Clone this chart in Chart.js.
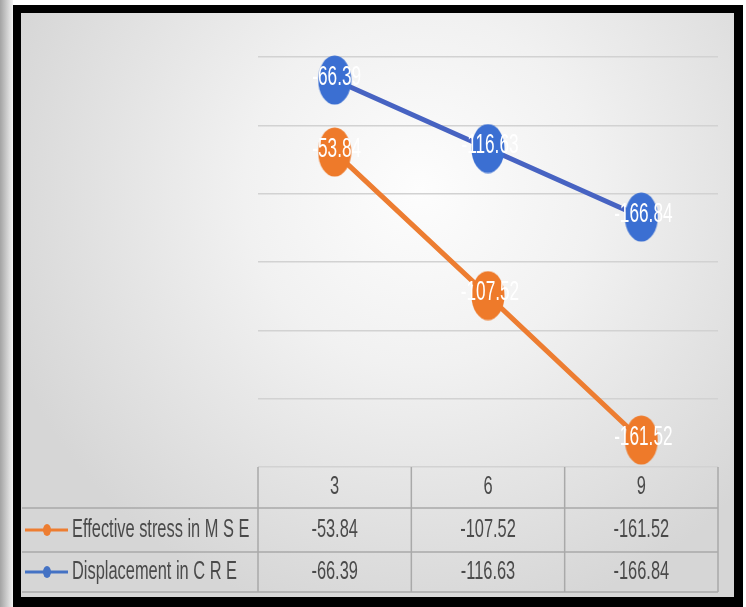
<!DOCTYPE html>
<html lang="en">
<head>
  <meta charset="UTF-8">
  <title>Effective stress and displacement</title>
  <script src="https://cdn.jsdelivr.net/npm/chart.js"></script>
  <style>
    html, body { margin: 0; padding: 0; background: #fff; }
    #wrap { position: relative; width: 746px; height: 607px; }
  </style>
</head>
<body>
  <div id="wrap"><canvas id="myChart" width="746" height="607"></canvas></div>

<script>
  var spacing = ['3', '6', '9'];
  var stressMSE = [-53.84, -107.52, -161.52];
  var dispCRE = [-66.39, -116.63, -166.84];
  var seriesNames = ['Effective stress in M S E', 'Displacement in C R E'];

  var orange = '#ed7d31';
  var blue = '#4472c4';
  var textGrey = '#4a4a4a';

  // narrow, tall lettering like the exported sheet
  function tallText(ctx, text, x, y, size, sy, color, align) {
    ctx.save();
    ctx.translate(x, y);
    ctx.scale(0.82, sy);
    ctx.font = size + 'px "Liberation Sans", Arial, sans-serif';
    ctx.fillStyle = color;
    ctx.textAlign = align || 'center';
    ctx.textBaseline = 'middle';
    ctx.fillText(text, 0, 0);
    ctx.restore();
  }

  function ovalMarker(color) {
    var c = document.createElement('canvas');
    c.width = 34;
    c.height = 50;
    var g = c.getContext('2d');
    g.fillStyle = color;
    g.beginPath();
    g.ellipse(17, 25, 16.5, 24.5, 0, 0, Math.PI * 2);
    g.fill();
    return c;
  }

  var framePlugin = {
    id: 'frame',
    beforeDraw: function(chart) {
      var ctx = chart.ctx;
      ctx.save();
      ctx.fillStyle = '#fff';
      ctx.fillRect(0, 0, 746, 607);
      var side = ctx.createLinearGradient(0, 0, 13, 0);
      side.addColorStop(0, '#a3a3a3');
      side.addColorStop(1, '#f2f2f2');
      ctx.fillStyle = side;
      ctx.fillRect(0, 0, 13, 607);
      ctx.fillStyle = '#000';
      ctx.fillRect(13, 5, 730, 602);
      var g = ctx.createRadialGradient(420, 190, 0, 420, 190, 440);
      g.addColorStop(0, '#fdfdfd');
      g.addColorStop(0.4, '#f1f1f1');
      g.addColorStop(1, '#d6d6d6');
      ctx.fillStyle = g;
      ctx.fillRect(21, 13, 713, 584);
      ctx.restore();
    }
  };

  var labelPlugin = {
    id: 'pointLabels',
    afterDatasetsDraw: function(chart) {
      var ctx = chart.ctx;
      chart.data.datasets.forEach(function(ds, d) {
        chart.getDatasetMeta(d).data.forEach(function(pt, i) {
          tallText(ctx, ds.data[i].toFixed(2), pt.x + 2, pt.y - 3, 21, 1.33, '#fff');
        });
      });
    }
  };

  var tablePlugin = {
    id: 'dataTable',
    afterDraw: function(chart) {
      var ctx = chart.ctx;
      var area = chart.chartArea;
      var xs = chart.scales.x;
      var band = (area.right - area.left) / spacing.length;
      var rows = [area.bottom, area.bottom + 41, area.bottom + 85, area.bottom + 125];

      ctx.save();
      ctx.strokeStyle = '#a9a9a9';
      ctx.lineWidth = 1.5;
      ctx.beginPath();
      for (var r = 1; r < rows.length; r++) {
        ctx.moveTo(22, rows[r]);
        ctx.lineTo(area.right, rows[r]);
      }
      for (var c = 0; c <= spacing.length; c++) {
        var cx = area.left + c * band;
        ctx.moveTo(cx, rows[0]);
        ctx.lineTo(cx, rows[3]);
      }
      ctx.stroke();

      spacing.forEach(function(lab, i) {
        tallText(ctx, lab, xs.getPixelForValue(i), (rows[0] + rows[1]) / 2, 20, 1.26, textGrey);
      });

      var series = [[stressMSE, orange], [dispCRE, blue]];
      series.forEach(function(s, k) {
        var cy = (rows[k + 1] + rows[k + 2]) / 2;
        // legend key
        ctx.strokeStyle = s[1];
        ctx.lineWidth = 3;
        ctx.beginPath();
        ctx.moveTo(25, cy);
        ctx.lineTo(68, cy);
        ctx.stroke();
        ctx.fillStyle = s[1];
        ctx.beginPath();
        ctx.ellipse(47, cy, 4, 6, 0, 0, Math.PI * 2);
        ctx.fill();
        tallText(ctx, seriesNames[k], 72, cy, 20, 1.26, textGrey, 'left');
        s[0].forEach(function(v, i) {
          tallText(ctx, v.toFixed(2), xs.getPixelForValue(i), cy, 20, 1.26, textGrey);
        });
      });
      ctx.restore();
    }
  };

  var ctx = document.getElementById('myChart');

  var chart = new Chart(ctx, {
    type: 'line',
    data: {
      labels: spacing,
      datasets: [{
        label: seriesNames[0],
        data: stressMSE,
        yAxisID: 'y',
        borderColor: orange,
        backgroundColor: orange,
        borderWidth: 5,
        pointStyle: ovalMarker('#ee7a2a'),
        pointRadius: 17,
        clip: false
      }, {
        label: seriesNames[1],
        data: dispCRE,
        yAxisID: 'y2',
        borderColor: '#4763c2',
        backgroundColor: blue,
        borderWidth: 5,
        pointStyle: ovalMarker('#3b6fd2'),
        pointRadius: 17,
        clip: false
      }]
    },
    options: {
      responsive: false,
      animation: false,
      events: [],
      layout: { padding: { left: 258, right: 28, top: 57, bottom: 140 } },
      plugins: {
        legend: { display: false },
        tooltip: { enabled: false }
      },
      scales: {
        x: { display: false, offset: true },
        y: {
          min: -171.6,
          max: -18.3,
          ticks: { display: false, count: 7 },
          grid: { color: '#d2d2d2', lineWidth: 1.5, drawTicks: false },
          border: { display: false }
        },
        y2: { display: false, min: -350.1, max: -49.5 }
      }
    },
    plugins: [framePlugin, labelPlugin, tablePlugin]
  });
</script>
</body>
</html>
